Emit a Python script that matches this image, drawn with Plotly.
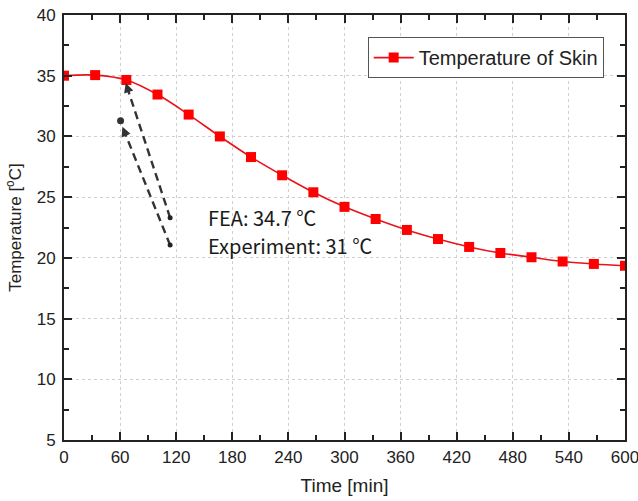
import plotly.graph_objects as go

# Data
time_min = [0, 33.3, 66.7, 100, 133.3, 166.7, 200, 233.3, 266.7, 300,
            333.3, 366.7, 400, 433.3, 466.7, 500, 533.3, 566.7, 600]
temp_skin = [35.0, 35.05, 34.65, 33.45, 31.8, 30.0, 28.3, 26.8, 25.4, 24.2,
             23.2, 22.3, 21.55, 20.9, 20.4, 20.05, 19.7, 19.5, 19.35]

# Annotation arrows (tail -> head), in data units
arrow_tail_x = [113.5, 113.5]
arrow_tail_y = [23.3, 21.05]
arrow_head_x = [66.0, 62.5]
arrow_head_y = [34.4, 30.8]
exp_point_x = [60.5]
exp_point_y = [31.3]

ann_text = ["FEA: 34.7 ℃", "Experiment: 31 ℃"]
ann_x = [152, 152]
ann_y = [23.3, 21.0]

FONT = "Liberation Sans, Arial, sans-serif"

fig = go.Figure()

arrow_color = "#333333"
for tx, ty, hx, hy in zip(arrow_tail_x, arrow_tail_y, arrow_head_x, arrow_head_y):
    fig.add_trace(go.Scatter(
        x=[tx, hx], y=[ty, hy], mode="lines",
        line=dict(color=arrow_color, width=2.4, dash="8px,5px"),
        showlegend=False, hoverinfo="skip"))
    fig.add_annotation(
        x=hx, y=hy, ax=hx + (tx - hx) * 0.08, ay=hy + (ty - hy) * 0.08,
        axref="x", ayref="y", xref="x", yref="y",
        showarrow=True, arrowhead=2, arrowsize=1.2, arrowwidth=1.6,
        arrowcolor=arrow_color, text="")

fig.add_trace(go.Scatter(
    x=arrow_tail_x, y=arrow_tail_y, mode="markers",
    marker=dict(color="#222222", size=5, symbol="circle"),
    showlegend=False, hoverinfo="skip"))
fig.add_trace(go.Scatter(
    x=exp_point_x, y=exp_point_y, mode="markers",
    marker=dict(color="#333333", size=7, symbol="circle"),
    showlegend=False, hoverinfo="skip"))

fig.add_trace(go.Scatter(
    x=time_min, y=temp_skin, mode="lines+markers",
    name="Temperature of Skin",
    line=dict(color="#e8141a", width=1.6, shape="spline"),
    marker=dict(color="#ff0000", size=10, symbol="square")))

for t, x, y in zip(ann_text, ann_x, ann_y):
    fig.add_annotation(x=x, y=y, xref="x", yref="y", text=t, showarrow=False,
                       xanchor="left", yanchor="middle",
                       font=dict(family="Noto Sans CJK KR, Noto Sans, sans-serif",
                                 size=20, color="#1a1a1a"))

axis_common = dict(
    showline=True, linecolor="#222222", linewidth=1.8, mirror="allticks",
    ticks="inside", ticklen=8, tickwidth=1.5, tickcolor="#222222",
    showgrid=True, gridcolor="#cfcfcf", griddash="dot", gridwidth=1,
    zeroline=False, automargin=False, ticklabeloverflow="allow",
    tickfont=dict(family=FONT, size=17, color="#222222"),
)

fig.update_xaxes(
    range=[0, 600], tickvals=[0, 60, 120, 180, 240, 300, 360, 420, 480, 540, 600],
    minor=dict(dtick=30, ticks="inside", ticklen=5, tickwidth=1.5, tickcolor="#222222", showgrid=False),
    ticklabelstandoff=1,
    title=dict(text="Time [min]", font=dict(family=FONT, size=19, color="#222222"),
               standoff=12),
    **axis_common)
fig.update_yaxes(
    range=[5, 40], dtick=5,
    minor=dict(dtick=2.5, ticks="inside", ticklen=5, tickwidth=1.5, tickcolor="#222222", showgrid=False),
    ticklabelstandoff=3,
    title=dict(text="Temperature [<sup>o</sup>C]", font=dict(family=FONT, size=17, color="#222222"),
               standoff=11),
    **axis_common)

fig.update_layout(
    width=638, height=501,
    margin=dict(l=64, r=13, t=15, b=61),
    plot_bgcolor="white", paper_bgcolor="white",
    legend=dict(x=0.962, y=0.948, xanchor="right", yanchor="top",
                bordercolor="#555555", borderwidth=1, bgcolor="white",
                font=dict(family=FONT, size=20, color="#222222"),
                itemwidth=40, tracegroupgap=0),
    showlegend=True,
)

fig.write_html("out.html", config={"displayModeBar": False},
               post_script="document.body.style.margin='0';document.body.style.overflow='hidden';")
